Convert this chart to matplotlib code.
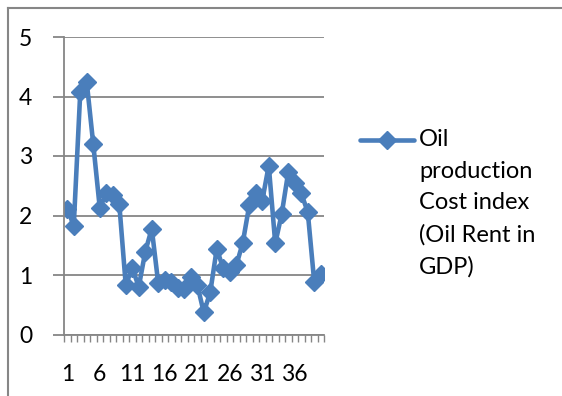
import matplotlib.pyplot as plt
from matplotlib.lines import Line2D
import numpy as np

plt.rcParams['font.family'] = ['Lato', 'DejaVu Sans']

# oil production cost index (oil rent in GDP), 40 observations
periods = np.arange(1, 41)
cost_index = [2.11, 1.83, 4.07, 4.24, 3.20, 2.13, 2.37, 2.34, 2.20, 0.83,
              1.12, 0.80, 1.39, 1.78, 0.86, 0.91, 0.88, 0.78, 0.76, 0.97,
              0.84, 0.37, 0.71, 1.44, 1.11, 1.05, 1.16, 1.54, 2.17, 2.38,
              2.25, 2.84, 1.53, 2.03, 2.73, 2.54, 2.37, 2.06, 0.88, 1.02]
label_periods = [1, 6, 11, 16, 21, 26, 31, 36]
series_name = "Oil\nproduction\nCost index\n(Oil Rent in\nGDP)"

blue = '#4A7EBB'
gray = '#868686'

fig = plt.figure(figsize=(5.62, 3.96), dpi=100)
ax = fig.add_axes([64 / 562, 1 - 334.5 / 396, 260 / 562, 297.5 / 396])

ax.plot(periods, cost_index, color=blue, linewidth=3.3, marker='D', markersize=9.5,
        solid_joinstyle='round', solid_capstyle='round')

ax.set_xlim(0.5, 40.5)
ax.set_ylim(0, 5)
ax.set_yticks(range(6))
ax.yaxis.grid(True, color=gray, linewidth=1.3)
ax.set_axisbelow(True)

# tick marks between categories, labels every 5th period
ax.set_xticks(np.arange(0.5, 41, 1))
ax.set_xticklabels([])
ax.set_xticks(label_periods, minor=True)
ax.set_xticklabels([str(p) for p in label_periods], minor=True)
ax.tick_params(axis='x', which='major', length=5, color=gray, width=1, direction='out')
ax.tick_params(axis='x', which='minor', length=0, pad=21, labelsize=16.5)
ax.tick_params(axis='y', length=8, color=gray, width=1.3, pad=15, labelsize=16.5)

for s in ['top', 'right']:
    ax.spines[s].set_visible(False)
for s in ['left', 'bottom']:
    ax.spines[s].set_color(gray)
    ax.spines[s].set_linewidth(1.3)

# legend drawn beside the plot
fig.add_artist(Line2D([360 / 562, 414 / 562], [1 - 140 / 396] * 2, color=blue,
                      linewidth=3.3, solid_capstyle='round'))
fig.add_artist(Line2D([387 / 562], [1 - 140 / 396], color=blue, marker='D',
                      markersize=9.5, linestyle='none'))
fig.text(419 / 562, 1 - 129 / 396, series_name, fontsize=17, va='top', ha='left',
         linespacing=1.62)

# outer chart frame
fig.add_artist(Line2D([8 / 562, 1], [1 - 8 / 396] * 2, color=gray, linewidth=1.5))
fig.add_artist(Line2D([8 / 562] * 2, [0, 1 - 8 / 396], color=gray, linewidth=1.5))

fig.savefig('out.png', dpi=100)
